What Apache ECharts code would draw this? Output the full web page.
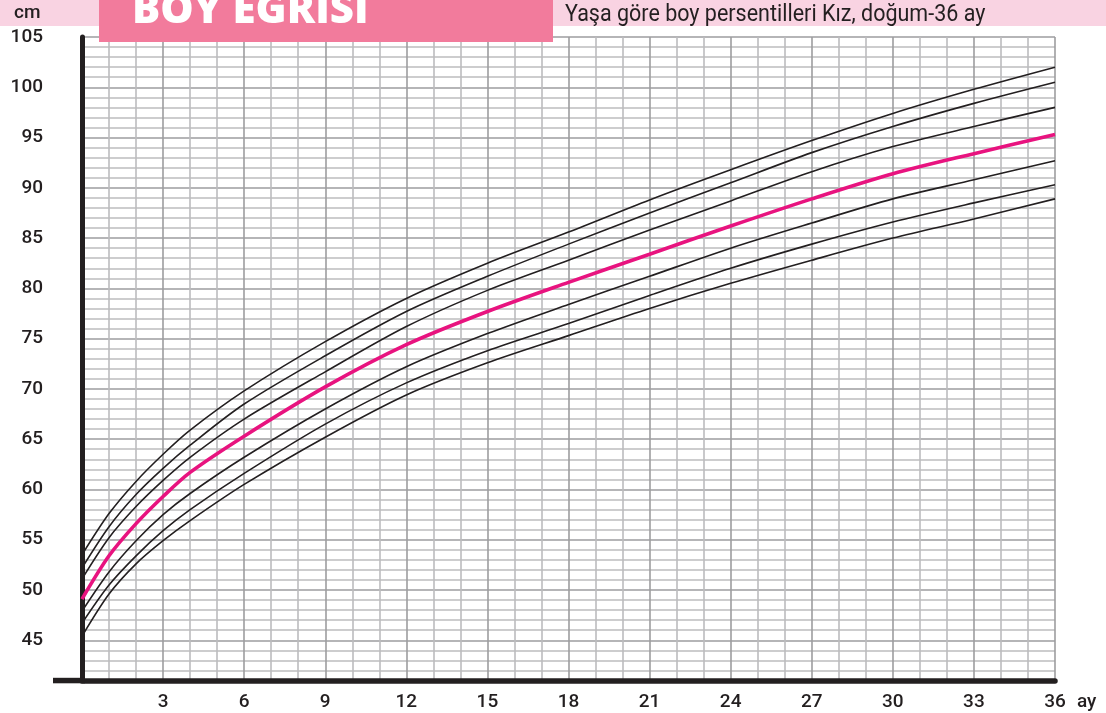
<!DOCTYPE html>
<html>
<head>
<meta charset="utf-8">
<title>Boy eğrisi</title>
<script src="https://cdn.jsdelivr.net/npm/echarts@6/dist/echarts.min.js"></script>
<style>
  html, body { margin: 0; padding: 0; background: #fff; }
  #chart { width: 1106px; height: 713px; }
</style>
</head>
<body>
<div id="chart"></div>
<script>
// ages in months, read at the grid lines
const months = [0, 1, 2, 3, 4, 6, 9, 12, 15, 18, 21, 24, 27, 30, 33, 36];

// length (cm), top curve to bottom curve
const p97 = [53.5, 57.6, 60.8, 63.5, 65.9, 69.8, 74.7, 79.0, 82.5, 85.6, 88.8, 91.8, 94.7, 97.4, 99.8, 102.0];
const p90 = [52.2, 56.3, 59.5, 62.1, 64.4, 68.5, 73.3, 77.7, 81.2, 84.4, 87.5, 90.5, 93.5, 96.1, 98.4, 100.5];
const p75 = [51.1, 55.2, 58.3, 60.9, 63.2, 67.0, 71.7, 76.2, 79.8, 82.8, 85.8, 88.7, 91.6, 94.1, 96.1, 98.0];
const p50 = [49.1, 53.4, 56.6, 59.3, 61.7, 65.3, 70.2, 74.4, 77.7, 80.6, 83.4, 86.2, 88.9, 91.4, 93.4, 95.3];
const p25 = [47.9, 51.8, 54.9, 57.5, 59.6, 63.2, 68.0, 72.2, 75.5, 78.4, 81.2, 84.0, 86.5, 88.9, 90.8, 92.7];
const p10 = [46.7, 50.5, 53.4, 55.9, 58.0, 61.6, 66.5, 70.6, 73.8, 76.5, 79.3, 82.0, 84.4, 86.6, 88.5, 90.3];
const p3  = [45.4, 49.6, 52.6, 54.9, 56.9, 60.5, 65.2, 69.4, 72.6, 75.3, 78.0, 80.5, 82.8, 85.0, 86.9, 88.9];

const curves = [p97, p90, p75, p50, p25, p10, p3];
const curveNames = ['P97', 'P90', 'P75', 'P50', 'P25', 'P10', 'P3'];

const INK = '#231f20';
const MAGENTA = '#e8137f';
const GRID_MAJOR = '#9d9d9f';
const GRID_MINOR = '#bcbcbe';

const chart = echarts.init(document.getElementById('chart'));

const series = curves.map(function (vals, i) {
    const isMedian = curveNames[i] === 'P50';
    return {
        name: curveNames[i],
        type: 'line',
        data: months.map(function (m, j) { return [m, vals[j]]; }),
        smooth: 0.3,
        showSymbol: false,
        silent: true,
        z: isMedian ? 4 : 3,
        lineStyle: { color: isMedian ? MAGENTA : INK, width: isMedian ? 3.6 : 1.6 }
    };
});

chart.setOption({
    animation: false,
    textStyle: { fontFamily: 'Roboto, "Open Sans", sans-serif' },
    grid: { left: 82, right: 51, top: 37, bottom: 32.5 },
    xAxis: {
        type: 'value',
        min: 0,
        max: 36,
        interval: 1,
        name: 'ay',
        nameLocation: 'end',
        nameGap: 22,
        nameTextStyle: {
            color: INK, fontSize: 19, fontWeight: 500,
            verticalAlign: 'top', padding: [12, 0, 0, 0]
        },
        axisLine: { lineStyle: { color: INK, width: 5.5 } },
        axisTick: { show: false },
        axisLabel: {
            color: INK, fontSize: 19, fontWeight: 500, margin: 12,
            formatter: function (v) { return v > 0 && v % 3 === 0 ? String(v) : ''; }
        },
        splitLine: {
            show: true,
            lineStyle: { color: [GRID_MAJOR, GRID_MINOR, GRID_MINOR], width: 1.6 }
        }
    },
    yAxis: {
        type: 'value',
        min: 41,
        max: 105,
        interval: 1,
        offset: 3,
        axisLine: { show: true, lineStyle: { color: INK, width: 5 } },
        axisTick: { show: false },
        axisLabel: {
            color: INK, fontSize: 19, fontWeight: 500, margin: 36,
            formatter: function (v) { return v % 5 === 0 ? String(v) : ''; }
        },
        splitLine: {
            show: true,
            lineStyle: {
                color: [GRID_MINOR, GRID_MINOR, GRID_MINOR, GRID_MINOR, GRID_MAJOR],
                width: 1.6
            }
        }
    },
    graphic: [
        // left stub of the bottom axis bar
        { type: 'rect', z: 50, shape: { x: 53, y: 677.8, width: 32, height: 5.5 }, style: { fill: INK } },
        // header band
        { type: 'rect', z: 90, shape: { x: 0, y: 0, width: 1106, height: 26 }, style: { fill: '#f9d3e2' } },
        { type: 'rect', z: 91, shape: { x: 99, y: 0, width: 454, height: 42 }, style: { fill: '#f27b9c' } },
        {
            type: 'text', z: 92, x: 132, y: -10,
            style: {
                text: 'BOY EGRISI', fill: '#ffffff',
                font: '800 42px "Open Sans", Roboto, sans-serif'
            }
        },
        {
            type: 'text', z: 92, x: 565, y: 4, scaleX: 0.935,
            style: {
                text: 'Yaşa göre boy persentilleri Kız, doğum-36 ay', fill: INK,
                font: '23px Roboto, sans-serif'
            }
        },
        {
            type: 'text', z: 92, x: 14, y: 4,
            style: { text: 'cm', fill: INK, font: '500 19px Roboto, sans-serif' }
        }
    ],
    series: series
});
</script>
</body>
</html>
